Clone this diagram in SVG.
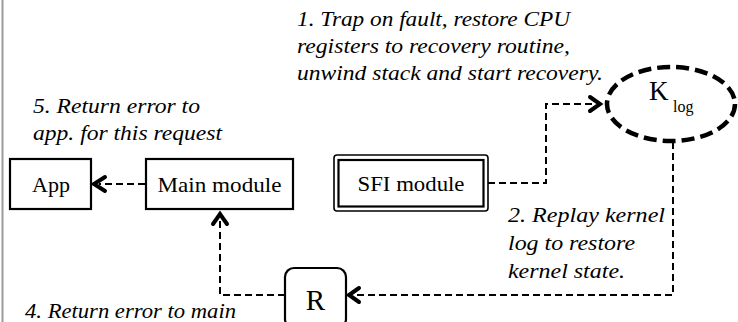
<svg xmlns="http://www.w3.org/2000/svg" width="738" height="322" viewBox="0 0 738 322">
<style>
.box{fill:#fff;stroke:#000;stroke-width:2.2}
.lbl{font-family:"Liberation Serif","Times New Roman",serif;fill:#000}
.note{font-family:"Liberation Serif","Times New Roman",serif;font-style:italic;font-size:21px;fill:#000}
.dash{fill:none;stroke:#000;stroke-width:2;stroke-dasharray:7 4}
.head{fill:none;stroke:#000;stroke-width:4;stroke-linecap:round;stroke-linejoin:miter}
</style>
<rect width="738" height="322" fill="#fff"/>
<line x1="2.5" y1="0" x2="2.5" y2="322" stroke="#9a9a9a" stroke-width="2"/>

<g id="connectors">
  <path class="dash" d="M145,184 H99"/>
  <path class="head" d="M105,177 L94,184 L105,191"/>
  <path class="dash" d="M488,183 H546 V104 H596"/>
  <path class="head" d="M590,97 L600,104 L590,111"/>
  <path class="dash" d="M673,142 V295 H354"/>
  <path class="head" d="M359,288 L349,295 L359,302"/>
  <path class="dash" d="M285,295 H220 V218"/>
  <path class="head" d="M213,224 L220,214 L227,224"/>
</g>

<g id="app">
  <rect class="box" x="10" y="159" width="81" height="50"/>
  <text class="lbl" x="51" y="192" font-size="22" text-anchor="middle">App</text>
</g>
<g id="main-module">
  <rect class="box" x="146" y="159" width="147" height="50"/>
  <text class="lbl" x="219.5" y="192" font-size="22" text-anchor="middle" textLength="124" lengthAdjust="spacingAndGlyphs">Main module</text>
</g>
<g id="sfi-module">
  <rect x="334" y="155" width="154" height="56" rx="3" fill="#fff" stroke="#000" stroke-width="1.6"/>
  <rect x="338.5" y="160" width="145" height="46.5" fill="none" stroke="#000" stroke-width="2.2"/>
  <text class="lbl" x="411" y="191" font-size="22" text-anchor="middle" textLength="107" lengthAdjust="spacingAndGlyphs">SFI module</text>
</g>
<g id="klog">
  <ellipse cx="671" cy="104" rx="64" ry="37" fill="#fff" stroke="#000" stroke-width="4.5" stroke-dasharray="13 6"/>
  <text class="lbl" x="649" y="100" font-size="27">K</text>
  <text class="lbl" x="673" y="112" font-size="16">log</text>
</g>
<g id="r">
  <rect class="box" x="285" y="268" width="61" height="60" rx="9"/>
  <text class="lbl" x="315.5" y="310" font-size="29" text-anchor="middle">R</text>
</g>

<g id="notes">
  <text class="note" x="297" y="26" textLength="273" lengthAdjust="spacingAndGlyphs">1. Trap on fault, restore CPU</text>
  <text class="note" x="297" y="53" textLength="273" lengthAdjust="spacingAndGlyphs">registers to recovery routine,</text>
  <text class="note" x="297" y="80" textLength="306" lengthAdjust="spacingAndGlyphs">unwind stack and start recovery.</text>
  <text class="note" x="33" y="113" textLength="167" lengthAdjust="spacingAndGlyphs">5. Return error to</text>
  <text class="note" x="33" y="140" textLength="189" lengthAdjust="spacingAndGlyphs">app. for this request</text>
  <text class="note" x="508" y="222" textLength="157" lengthAdjust="spacingAndGlyphs">2. Replay kernel</text>
  <text class="note" x="508" y="250" textLength="127" lengthAdjust="spacingAndGlyphs">log to restore</text>
  <text class="note" x="508" y="278" textLength="117" lengthAdjust="spacingAndGlyphs">kernel state.</text>
  <text class="note" x="25" y="318" textLength="211" lengthAdjust="spacingAndGlyphs">4. Return error to main</text>
</g>
</svg>
